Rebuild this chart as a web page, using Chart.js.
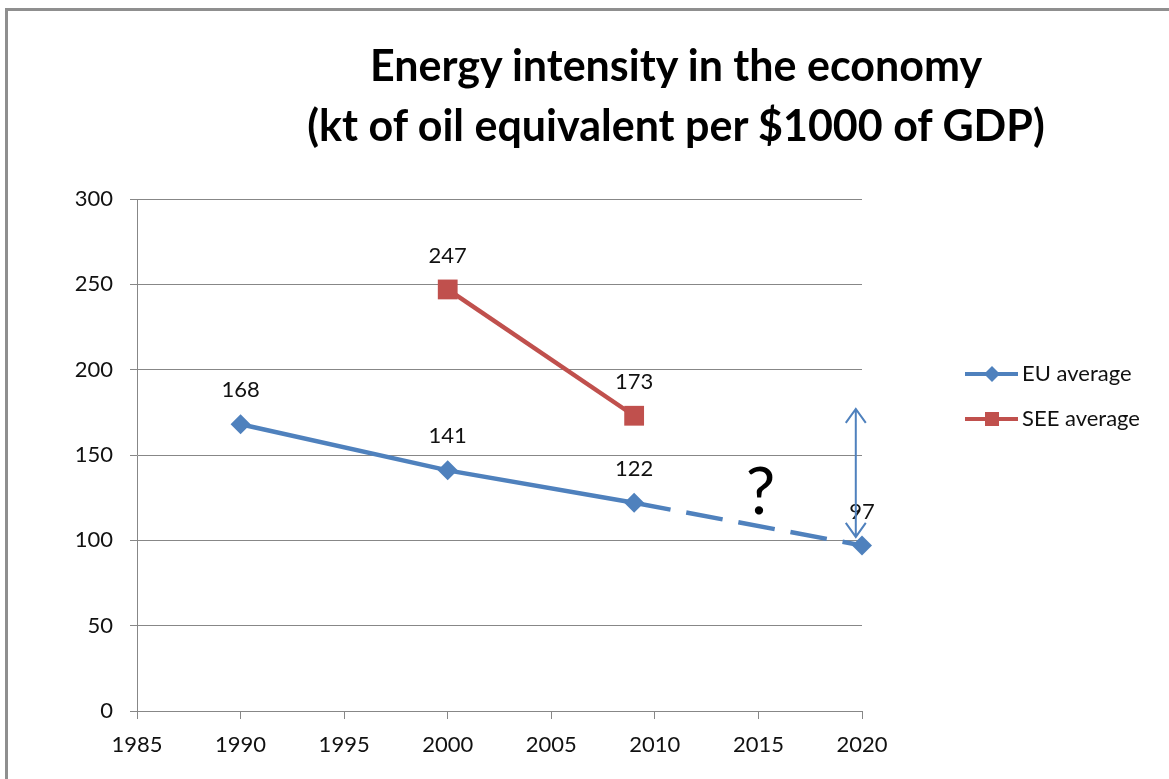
<!DOCTYPE html>
<html>
<head>
<meta charset="utf-8">
<script src="https://cdn.jsdelivr.net/npm/chart.js@4/dist/chart.umd.min.js"></script>
<style>
  html, body { margin: 0; padding: 0; background: #fff; overflow: hidden; }
  #wrap { position: relative; width: 1169px; height: 779px; }
  #frame { position: absolute; left: 5px; top: 8px; width: 1300px; height: 900px;
           border-left: 3px solid #8f8f8f; border-top: 3px solid #8f8f8f; box-sizing: border-box; }
  #title { position: absolute; left: 0; top: 35px; width: 1352px; text-align: center;
           font-family: Lato, "Open Sans", sans-serif; font-weight: bold; font-size: 43px;
           line-height: 60px; color: #000; }
  canvas { position: absolute; left: 0; top: 0; }
</style>
</head>
<body>
<div id="wrap">
  <div id="frame"></div>
  <canvas id="c" width="1169" height="779"></canvas>
  <div id="title">Energy intensity in the economy<br>(kt of oil equivalent per $1000 of GDP)</div>
</div>
<script>
// ---- data ----
const euYears = [1990, 2000, 2009, 2020];
const euValues = [168, 141, 122, 97];
const seeYears = [2000, 2009];
const seeValues = [247, 173];
const seriesNames = ["EU average", "SEE average"];
const xMin = 1985, xMax = 2020, xStep = 5;
const yMin = 0, yMax = 300, yStep = 50;
const projectionStartYear = 2009;
// annotation: gap arrow and question mark
const arrowYear = 2019.7, arrowFrom = 177, arrowTo = 102;
const questionYear = 2015.1, questionValue = 128, questionText = "?";

const BLUE = "#4F81BD", RED = "#C0504D", GRID = "#878787";
const FONT = "Lato, 'Open Sans', sans-serif";

const euData = euYears.map((x, i) => ({ x, y: euValues[i] }));
const seeData = seeYears.map((x, i) => ({ x, y: seeValues[i] }));

const dataLabels = {
  id: "dataLabels",
  afterDatasetsDraw(chart) {
    const ctx = chart.ctx;
    ctx.save();
    ctx.font = "22px " + FONT;
    ctx.fillStyle = "#111";
    ctx.textAlign = "center";
    ctx.textBaseline = "middle";
    chart.data.datasets.forEach((ds, di) => {
      const meta = chart.getDatasetMeta(di);
      meta.data.forEach((pt, i) => {
        ctx.fillText(String(ds.data[i].y), pt.x, pt.y - 34);
      });
    });
    ctx.restore();
  }
};

const extras = {
  id: "extras",
  afterDraw(chart) {
    const ctx = chart.ctx;
    const xs = chart.scales.x, ys = chart.scales.y;
    // arrow
    const ax = xs.getPixelForValue(arrowYear);
    const y1 = ys.getPixelForValue(arrowFrom), y2 = ys.getPixelForValue(arrowTo);
    ctx.save();
    ctx.strokeStyle = BLUE;
    ctx.lineWidth = 2;
    ctx.beginPath();
    ctx.moveTo(ax, y1); ctx.lineTo(ax, y2);
    ctx.moveTo(ax - 10, y1 + 14); ctx.lineTo(ax, y1); ctx.lineTo(ax + 10, y1 + 14);
    ctx.moveTo(ax - 10, y2 - 14); ctx.lineTo(ax, y2); ctx.lineTo(ax + 10, y2 - 14);
    ctx.stroke();
    // question mark
    ctx.fillStyle = "#000";
    ctx.font = "66px " + FONT;
    ctx.textAlign = "center";
    ctx.textBaseline = "middle";
    ctx.fillText(questionText, xs.getPixelForValue(questionYear), ys.getPixelForValue(questionValue));
    // legend
    const items = chart.data.datasets;
    const lx = 965, ly = 374, gap = 45;
    items.forEach((ds, i) => {
      const y = ly + i * gap;
      ctx.strokeStyle = ds.borderColor;
      ctx.lineWidth = 4;
      ctx.beginPath(); ctx.moveTo(lx, y); ctx.lineTo(lx + 53, y); ctx.stroke();
      ctx.fillStyle = ds.backgroundColor;
      ctx.beginPath();
      if (ds.pointStyle === "rect") { ctx.rect(lx + 20, y - 7, 14, 14); }
      else { ctx.moveTo(lx + 27, y - 8); ctx.lineTo(lx + 35, y); ctx.lineTo(lx + 27, y + 8); ctx.lineTo(lx + 19, y); ctx.closePath(); }
      ctx.fill();
      ctx.fillStyle = "#111";
      ctx.font = "22px " + FONT;
      ctx.textAlign = "left";
      ctx.textBaseline = "middle";
      ctx.fillText(ds.label, lx + 57, y);
    });
    ctx.restore();
  }
};

new Chart(document.getElementById("c"), {
  type: "line",
  data: {
    datasets: [
      {
        label: seriesNames[0], data: euData, clip: false,
        borderColor: BLUE, backgroundColor: BLUE, borderWidth: 4.5,
        pointStyle: "rectRot", pointRadius: 10, pointHoverRadius: 10,
        pointBorderColor: BLUE, pointBackgroundColor: BLUE, pointBorderWidth: 0,
        borderCapStyle: "butt", tension: 0,
        segment: { borderDash: c => c.p0.parsed.x >= projectionStartYear ? [37, 16] : undefined }
      },
      {
        label: seriesNames[1], data: seeData, clip: false,
        borderColor: RED, backgroundColor: RED, borderWidth: 4.5,
        pointStyle: "rect", pointRadius: 14, pointHoverRadius: 14,
        pointBorderColor: RED, pointBackgroundColor: RED, pointBorderWidth: 0,
        tension: 0
      }
    ]
  },
  options: {
    responsive: false,
    devicePixelRatio: 1,
    animation: false,
    events: [],
    layout: { padding: { top: 199, right: 307, bottom: 18, left: 0 } },
    plugins: { legend: { display: false }, title: { display: false }, tooltip: { enabled: false } },
    scales: {
      x: {
        type: "linear", min: xMin, max: xMax,
        afterFit(s) { s.height = 50; },
        ticks: { stepSize: xStep, callback: v => String(v), color: "#111",
                 font: { family: FONT, size: 22 }, padding: 13, maxRotation: 0 },
        grid: { drawOnChartArea: false, drawTicks: true, tickLength: 8, color: GRID },
        border: { color: GRID }
      },
      y: {
        min: yMin, max: yMax,
        afterFit(s) { s.width = 137; },
        ticks: { stepSize: yStep, color: "#111", font: { family: FONT, size: 22 }, padding: 17 },
        grid: { color: GRID, tickLength: 7 },
        border: { color: GRID }
      }
    }
  },
  plugins: [dataLabels, extras]
});
</script>
</body>
</html>
